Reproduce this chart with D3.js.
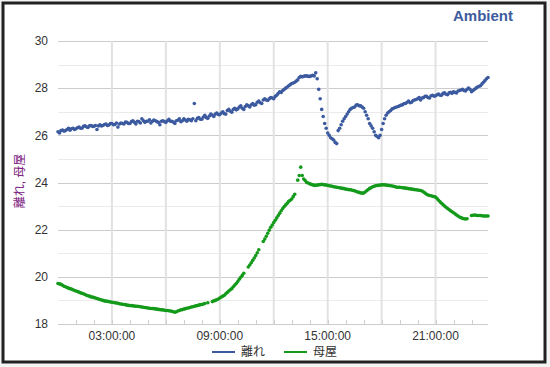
<!DOCTYPE html>
<html>
<head>
<meta charset="utf-8">
<script src="https://cdn.jsdelivr.net/npm/d3@7"></script>
<style>
  html, body { margin: 0; padding: 0; background: #f4f4f4; }
  svg { display: block; font-family: Arial, "Liberation Sans", "Noto Sans CJK JP", sans-serif; }
</style>
</head>
<body>
<svg id="chart" width="550" height="367"></svg>
<script>
// one reading every 5 minutes, starting at midnight
const startTime = "00:00";
const stepMinutes = 5;

// 離れ (blue), one row per hour
const hanare = [
  26.15, 26.1, 26.2, 26.22, 26.18, 26.2, 26.25, 26.3, 26.22, 26.28, 26.3, 26.25,
  26.28, 26.32, 26.35, 26.3, 26.3, 26.38, 26.4, 26.36, 26.33, 26.4, 26.42, 26.38,
  26.38, 26.42, 26.25, 26.4, 26.45, 26.4, 26.42, 26.46, 26.48, 26.42, 26.44, 26.5,
  26.5, 26.45, 26.46, 26.52, 26.35, 26.48, 26.52, 26.5, 26.48, 26.56, 26.55, 26.5,
  26.5, 26.58, 26.62, 26.55, 26.48, 26.6, 26.58, 26.52, 26.7, 26.62, 26.55, 26.6,
  26.6, 26.66, 26.52, 26.6, 26.65, 26.62, 26.58, 26.55, 26.45, 26.6, 26.62, 26.58,
  26.55, 26.62, 26.68, 26.6, 26.6, 26.56, 26.5, 26.62, 26.64, 26.7, 26.58, 26.62,
  26.7, 26.65, 26.6, 26.68, 26.66, 26.62, 26.7, 27.35, 26.62, 26.72, 26.75, 26.68,
  26.68, 26.78, 26.85, 26.75, 26.72, 26.82, 26.9, 26.85, 26.8, 26.9, 26.95, 26.88,
  26.88, 26.95, 27.0, 26.92, 26.9, 27.05, 27.1, 27.02, 26.98, 27.1, 27.15, 27.08,
  27.12, 27.2, 27.25, 27.15, 27.1, 27.22, 27.3, 27.25, 27.2, 27.3, 27.35, 27.28,
  27.3, 27.4, 27.45, 27.38, 27.35, 27.5, 27.55, 27.5, 27.48, 27.55, 27.6, 27.58,
  27.55, 27.65, 27.7, 27.78, 27.85, 27.82, 27.9, 27.95, 28.0, 28.05, 28.1, 28.15,
  28.2, 28.22, 28.25, 28.3, 28.35, 28.45, 28.5, 28.48, 28.5, 28.52, 28.52, 28.5,
  28.5, 28.52, 28.55, 28.52, 28.65, 28.4, 27.95, 27.55, 27.1, 26.8, 26.5, 26.3,
  26.1, 26.0, 25.9, 25.85, 25.8, 25.7, 25.65, 26.2, 26.3, 26.45, 26.6, 26.7,
  26.8, 26.9, 27.0, 27.1, 27.15, 27.18, 27.2, 27.28, 27.3, 27.25, 27.25, 27.2,
  27.15, 27.0, 26.85, 26.7, 26.5, 26.4, 26.3, 26.15, 26.0, 25.95, 25.9, 26.0,
  26.25, 26.5, 26.7, 26.85, 26.95, 27.0, 27.05, 27.12, 27.15, 27.18, 27.2, 27.22,
  27.25, 27.28, 27.3, 27.35, 27.35, 27.4, 27.45, 27.38, 27.4, 27.48, 27.5, 27.52,
  27.55, 27.6, 27.5, 27.58, 27.6, 27.66, 27.65, 27.6, 27.58, 27.68, 27.7, 27.66,
  27.68, 27.72, 27.75, 27.7, 27.7, 27.78, 27.8, 27.74, 27.72, 27.8, 27.82, 27.78,
  27.85, 27.82, 27.8, 27.88, 27.9, 27.92, 27.95, 27.9, 27.88, 27.95, 28.0, 27.95,
  27.85, 27.9, 27.95, 28.0, 28.05, 28.08, 28.1, 28.18, 28.25, 28.32, 28.4, 28.45
];

// 母屋 (green), null = missing reading
const omoya = [
  19.72, 19.7, 19.68, 19.64, 19.6, 19.58, 19.55, 19.52, 19.5, 19.48, 19.45, 19.42,
  19.4, 19.38, 19.35, 19.32, 19.3, 19.28, 19.25, 19.22, 19.2, 19.18, 19.15, 19.14,
  19.12, 19.1, 19.08, 19.06, 19.04, 19.02, 19.0, 18.98, 18.97, 18.96, 18.95, 18.93,
  18.92, 18.91, 18.9, 18.89, 18.88, 18.86, 18.85, 18.84, 18.83, 18.82, 18.8, 18.79,
  18.78, 18.78, 18.77, 18.76, 18.75, 18.75, 18.74, 18.73, 18.72, 18.71, 18.7, 18.69,
  18.68, 18.67, 18.66, 18.66, 18.65, 18.64, 18.63, 18.62, 18.61, 18.6, 18.6, 18.58,
  18.57, 18.57, 18.56, 18.55, 18.54, 18.52, 18.5, 18.52, 18.55, 18.57, 18.6, 18.61,
  18.63, 18.65, 18.67, 18.68, 18.7, 18.72, 18.73, 18.75, 18.77, 18.78, 18.8, 18.82,
  18.83, 18.85, 18.87, null, 18.9, null, null, 18.95, 18.98, 19.0, 19.03, 19.06,
  19.1, 19.14, 19.18, 19.22, 19.28, 19.34, 19.4, 19.45, 19.5, 19.58, 19.65, 19.72,
  19.8, 19.9, 19.98, 20.06, 20.15, null, null, 20.42, 20.5, 20.6, 20.7, 20.8,
  20.9, 21.02, 21.15, null, null, 21.5, 21.6, 21.72, 21.85, 21.98, 22.1, 22.2,
  22.3, 22.4, 22.5, 22.6, 22.7, 22.8, 22.9, 22.98, 23.05, 23.12, 23.2, 23.25,
  23.3, 23.4, 23.5, null, 24.1, 24.3, 24.65, 24.3, 24.15, 24.08, 24.0, 23.98,
  23.95, 23.92, 23.9, 23.88, 23.88, 23.89, 23.9, 23.91, 23.92, 23.91, 23.9, 23.89,
  23.88, 23.86, 23.85, 23.84, 23.82, 23.81, 23.8, 23.79, 23.78, 23.76, 23.75, 23.74,
  23.72, 23.71, 23.7, 23.69, 23.68, 23.66, 23.65, 23.62, 23.6, 23.58, 23.56, 23.55,
  23.55, 23.6, 23.65, 23.7, 23.75, 23.78, 23.82, 23.84, 23.86, 23.87, 23.88, 23.89,
  23.9, 23.9, 23.9, 23.89, 23.88, 23.87, 23.86, 23.85, 23.84, 23.82, 23.8, 23.8,
  23.8, 23.79, 23.78, 23.77, 23.76, 23.75, 23.74, 23.73, 23.72, 23.71, 23.7, 23.69,
  23.68, 23.67, 23.66, 23.64, 23.6, 23.55, 23.5, 23.47, 23.45, 23.44, 23.42, 23.4,
  23.38, 23.32, 23.25, 23.18, 23.12, 23.06, 23.0, 22.95, 22.9, 22.85, 22.8, 22.76,
  22.72, 22.67, 22.62, 22.58, 22.54, 22.51, 22.48, 22.46, 22.45, 22.46, null, null,
  22.6, 22.61, 22.62, 22.61, 22.6, 22.6, 22.6, 22.59, 22.58, 22.58, 22.58, 22.58
];

const seriesNames = ["離れ", "母屋"];
const seriesColors = ["#3b5a9f", "#149a1b"];
const yTicks = [18, 20, 22, 24, 26, 28, 30];
const xLabelTimes = ["03:00", "09:00", "15:00", "21:00"];
const chartTitle = "Ambient";
const yTitle = "離れ, 母屋";

(function(){
  const parse = d3.timeParse("%H:%M");
  const t0 = parse(startTime);
  const toPoints = vals => vals
    .map((v, i) => ({ t: d3.timeMinute.offset(t0, i * stepMinutes), v }))
    .filter(d => d.v != null);

  const svg = d3.select("#chart");
  const pL = 58, pR = 488, pT = 41, pB = 324;

  const x = d3.scaleTime()
    .domain([t0, d3.timeMinute.offset(t0, 23 * 60 + 55)])
    .range([pL, pR]);
  const y = d3.scaleLinear().domain([18, 30]).range([pB, pT]);

  // background + frame
  svg.append("rect").attr("x", 3).attr("y", 3).attr("width", 542).attr("height", 359)
    .attr("fill", "#fff").attr("stroke", "#222").attr("stroke-width", 3);

  // horizontal grid: odd values lighter
  svg.append("g").selectAll("line").data(d3.range(19, 30, 2)).join("line")
    .attr("x1", pL).attr("x2", pR)
    .attr("y1", d => Math.round(y(d)) + 0.5).attr("y2", d => Math.round(y(d)) + 0.5)
    .attr("stroke", "#ebebeb");
  svg.append("g").selectAll("line").data(yTicks).join("line")
    .attr("x1", pL).attr("x2", pR)
    .attr("y1", d => Math.round(y(d)) + 0.5).attr("y2", d => Math.round(y(d)) + 0.5)
    .attr("stroke", "#cccccc");

  // vertical grid every 3 hours
  const gridTimes = d3.timeHour.every(3).range(d3.timeHour.offset(t0, 1), x.domain()[1]);
  svg.append("g").selectAll("line").data(gridTimes).join("line")
    .attr("x1", d => x(d)).attr("x2", d => x(d))
    .attr("y1", pT).attr("y2", pB)
    .attr("stroke", "#e2e2e2").attr("stroke-width", 2);

  // hourly minor ticks on the baseline
  const hourTicks = d3.timeHour.every(1).range(d3.timeHour.offset(t0, 1), x.domain()[1]);
  svg.append("g").selectAll("line").data(hourTicks).join("line")
    .attr("x1", d => Math.round(x(d)) + 0.5).attr("x2", d => Math.round(x(d)) + 0.5)
    .attr("y1", pB - 4).attr("y2", pB)
    .attr("stroke", "#d0d0d0");

  // y labels
  svg.append("g").selectAll("text").data(yTicks).join("text")
    .attr("x", 48).attr("y", d => y(d)).attr("dy", "0.35em")
    .attr("text-anchor", "end").attr("font-size", 12).attr("fill", "#333")
    .text(d => d);

  // x labels
  svg.append("g").selectAll("text").data(xLabelTimes.map(parse)).join("text")
    .attr("x", d => x(d)).attr("y", 340)
    .attr("text-anchor", "middle").attr("font-size", 12).attr("fill", "#333")
    .text(d => d3.timeFormat("%H:%M:%S")(d));

  // y title
  svg.append("text")
    .attr("transform", "translate(24,181) rotate(-90)")
    .attr("text-anchor", "middle").attr("font-size", 12).attr("fill", "#7b1a80")
    .text(yTitle);

  // chart title
  svg.append("text").attr("x", 513).attr("y", 21)
    .attr("text-anchor", "end").attr("font-size", 15).attr("font-weight", "bold")
    .attr("fill", "#3d5b9e").text(chartTitle);

  // points
  [hanare, omoya].forEach((vals, i) => {
    svg.append("g").selectAll("circle").data(toPoints(vals)).join("circle")
      .attr("cx", d => x(d.t)).attr("cy", d => y(d.v)).attr("r", 1.8)
      .attr("fill", seriesColors[i]);
  });

  // legend
  const legendX = [212, 284];
  const lg = svg.append("g").selectAll("g").data(seriesNames).join("g")
    .attr("transform", (d, i) => `translate(${legendX[i]},352)`);
  lg.append("line").attr("x1", 0).attr("x2", 23)
    .attr("stroke", (d, i) => seriesColors[i]).attr("stroke-width", 2);
  lg.append("text").attr("x", 29).attr("dy", "0.35em")
    .attr("font-size", 12).attr("fill", "#333").text(d => d);
})();
</script>
</body>
</html>
